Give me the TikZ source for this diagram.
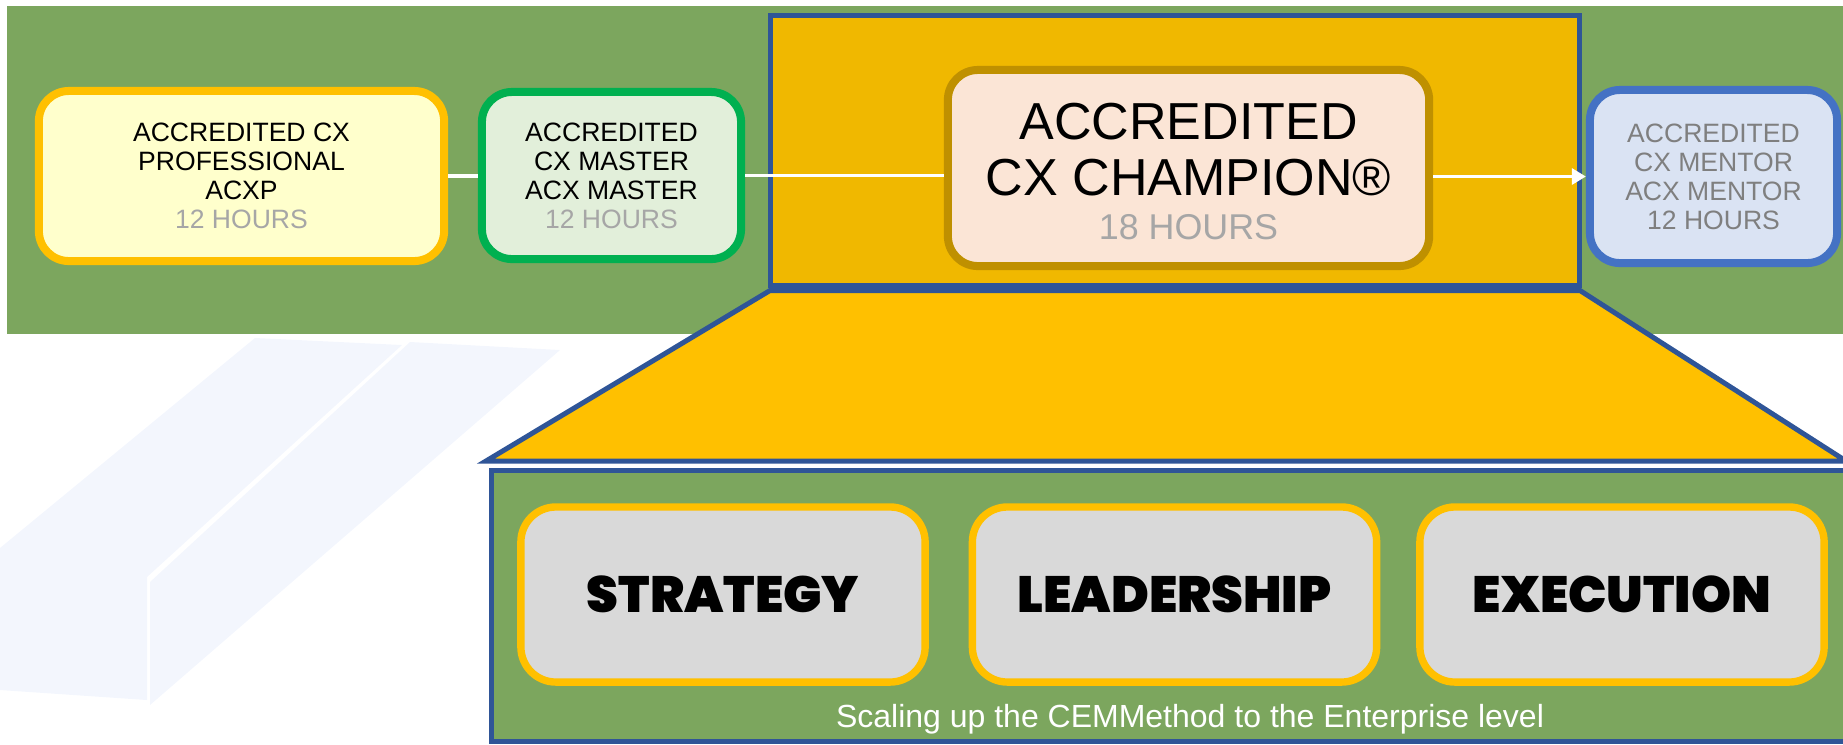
\documentclass[tikz,border=0pt]{standalone}
\usepackage{fontspec}
\setmainfont{Liberation Sans}
\newfontfamily\heavyfont{Poppins}[UprightFont={* Black}, BoldFont={* Black}]
\usetikzlibrary{arrows.meta}

\definecolor{band}{RGB}{124,166,94}
\definecolor{frameblue}{RGB}{47,85,151}
\definecolor{gold}{RGB}{240,184,0}
\definecolor{amber}{RGB}{255,192,0}
\definecolor{paleyellow}{RGB}{255,255,204}
\definecolor{palegreen}{RGB}{226,239,218}
\definecolor{kellygreen}{RGB}{0,176,80}
\definecolor{peach}{RGB}{251,229,214}
\definecolor{darkgold}{RGB}{191,144,0}
\definecolor{paleblue}{RGB}{218,227,243}
\definecolor{midblue}{RGB}{68,114,196}
\definecolor{hours}{RGB}{166,166,166}
\definecolor{mentortext}{RGB}{127,127,127}
\definecolor{pillgray}{RGB}{217,217,217}
\definecolor{watermark}{RGB}{243,246,253}

\tikzset{
  level/.style={draw, line width=2.28pt, rounded corners=0.3cm, align=center,
    inner sep=0pt, font=\fontsize{7.55pt}{8.25pt}\selectfont},
  pillar/.style={draw=amber, fill=pillgray, line width=2.1pt, rounded corners=0.35cm,
    minimum width=4.04cm, minimum height=1.75cm, inner sep=0pt,
    font=\heavyfont\fontsize{14.5pt}{16pt}\selectfont},
  link/.style={draw=white, line width=1.1pt},
  outline/.style={draw=frameblue, line width=1.42pt},
}

\begin{document}
\begin{tikzpicture}[x=0.01cm,y=-0.01cm]
\useasboundingbox (0,0) rectangle (1843,744);
\clip (0,0) rectangle (1843,744);

% faint logo mark in the background
\fill[watermark] (0,548) -- (255,338) -- (402,345) -- (147,577) -- (147,700) -- (0,690) -- cycle;
\fill[watermark] (410,342) -- (560,350) -- (150,705) -- (150,582) -- cycle;

% green band behind the level track
\fill[band] (7,6) rectangle (1850,334);

% highlighted frame around the champion level
\node[outline, fill=gold, minimum width=8.09cm, minimum height=2.69cm, inner sep=0pt]
  (frame) at (1175,150.5) {};

% widening funnel down to the enterprise panel
\draw[outline, fill=amber] (770,290.5) -- (1580,290.5) -- (1846,461) -- (486,461) -- cycle;

% enterprise panel
\draw[outline, fill=band] (491.5,470.5) rectangle (1850,741.5);

% the four levels
\node[level, fill=paleyellow, draw=amber, minimum width=4.05cm, minimum height=1.70cm]
  (acxp) at (241.5,176)
  {ACCREDITED CX\\PROFESSIONAL\\ACXP\\\textcolor{hours}{12 HOURS}};
\node[level, fill=palegreen, draw=kellygreen, minimum width=2.59cm, minimum height=1.67cm]
  (master) at (611.5,175.5)
  {ACCREDITED\\CX MASTER\\ACX MASTER\\\textcolor{hours}{12 HOURS}};
\node[level, fill=peach, draw=darkgold, minimum width=4.81cm, minimum height=1.96cm]
  (champ) at (1188.5,168) {};
\node[level, fill=paleblue, draw=midblue, minimum width=2.47cm, minimum height=1.73cm,
  text=mentortext]
  (mentor) at (1713.5,176.5)
  {ACCREDITED\\CX MENTOR\\ACX MENTOR\\12 HOURS};

% champion label
\node[anchor=base, inner sep=0pt, font=\fontsize{14.8pt}{16pt}\selectfont]
  (champtitle) at (1188.5,139.5) {ACCREDITED};
\node[anchor=base, inner sep=0pt, font=\fontsize{14.8pt}{16pt}\selectfont]
  (champname) at (1188.5,195.5) {CX CHAMPION®};
\node[anchor=base, inner sep=0pt, text=hours, font=\fontsize{10.2pt}{12pt}\selectfont]
  (champhours) at (1188.5,239) {18 HOURS};

% connectors along the track
\draw[link] (acxp.east) -- (acxp.east -| master.west);
\draw[link] (master.east) -- (master.east -| champ.west);
\draw[link, -{Triangle[length=4pt, width=4.5pt]}] (champ.east |- mentor.west) -- (mentor.west);

% the three pillars
\node[pillar] (strategy) at (723,594.5) {STRATEGY};
\node[pillar] (leadership) at (1174.5,594.5) {LEADERSHIP};
\node[pillar] (execution) at (1622,594.5) {EXECUTION};

\node[anchor=base, inner sep=0pt, text=white, font=\fontsize{9.1pt}{11pt}\selectfont]
  (tagline) at (1190,727) {Scaling up the CEMMethod to the Enterprise level};
\end{tikzpicture}
\end{document}
